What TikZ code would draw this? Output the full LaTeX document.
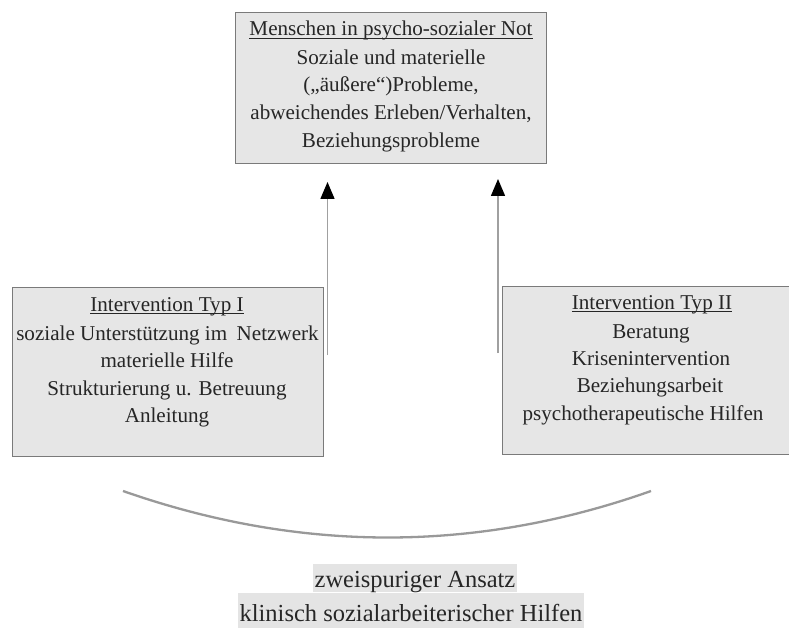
\documentclass[tikz,border=0pt]{standalone}
\usepackage{fontspec}
\setmainfont{Liberation Serif}
\usetikzlibrary{arrows.meta,calc}
\definecolor{boxfill}{HTML}{E6E6E6}
\definecolor{boxline}{HTML}{7A7A7A}
\definecolor{shaft}{HTML}{A0A0A0}
\definecolor{arcline}{HTML}{999999}
\definecolor{marker}{HTML}{E4E4E4}
% underline that crosses the descenders, as in the printed boxes
\newcommand\ulin[1]{\setbox0\hbox{#1}\rlap{\rule[-3pt]{\wd0}{0.9pt}}\box0}
\tikzset{
  panel/.style={draw=boxline, line width=1.3pt, fill=boxfill, inner sep=0pt, anchor=north west},
  line/.style={inner sep=0pt, anchor=base, text=black!85, font=\fontsize{21.1}{27}\selectfont},
  uparrow/.style={draw=shaft, line width=1.5pt, -{Triangle[length=17pt,width=14pt,color=black]}},
  caption/.style={fill=marker, inner xsep=1.5pt, inner ysep=0pt, anchor=base,
    text=black!85, font=\fontsize{24.5}{30}\selectfont}
}
\begin{document}
\begin{tikzpicture}[x=1pt,y=-1pt]
\clip (0,0) rectangle (789,628);
\fill[white] (0,0) rectangle (789,628);

% problem box
\node[panel, minimum width=311pt, minimum height=151pt] (need) at (235,12) {};
\node[line] (need0) at (391,36)    {\ulin{Menschen in psycho-sozialer Not}};
\node[line] (need1) at (391,64.3)  {Soziale und materielle};
\node[line] (need2) at (391,92)    {(„äußere“)Probleme,};
\node[line] (need3) at (391,119.6) {abweichendes Erleben/Verhalten,};
\node[line] (need4) at (391,147.2) {Beziehungsprobleme};

% intervention type I
\node[panel, minimum width=311pt, minimum height=169pt] (typeone) at (12,287) {};
\node[line] (one0) at (167,311)   {\ulin{Intervention Typ I}};
\node[line] (one1) at (167.5,340) {soziale Unterstützung im\hspace{0.45em}Netzwerk};
\node[line] (one2) at (167,367.5) {materielle Hilfe};
\node[line] (one3) at (167,395)   {Strukturierung u. Betreuung};
\node[line] (one4) at (167,422.5) {Anleitung};

% intervention type II
\node[panel, minimum width=300pt, minimum height=168pt] (typetwo) at (502,286) {};
\node[line] (two0) at (652,309) {\ulin{Intervention Typ II}};
\node[line] (two1) at (651,338) {Beratung};
\node[line] (two2) at (651,365) {Krisenintervention};
\node[line] (two3) at (650,392) {Beziehungsarbeit};
\node[line] (two4) at (643,420) {psychotherapeutische Hilfen};

% arrows towards the problem box
\coordinate (aonefrom) at (327.5,355);
\coordinate (aoneto) at (327.5,182);
\coordinate (atwofrom) at (498,353);
\coordinate (atwoto) at (498,179);
\draw[uparrow] (aonefrom) -- (aoneto);
\draw[uparrow] (atwofrom) -- (atwoto);

% bracket arc joining both tracks
\coordinate (arcleft) at (123,491);
\coordinate (arcca) at (300,553);
\coordinate (arccb) at (476,553);
\coordinate (arcright) at (651,491);
\draw[arcline, line width=2.3pt] (arcleft) .. controls (arcca) and (arccb) .. (arcright);

% caption
\node[caption, text height=24pt, text depth=4.5pt] (capone) at (415,587.5) {zweispuriger Ansatz\ };
\node[caption, text height=28.5pt, text depth=7pt] (captwo) at (411,621.5) {klinisch sozialarbeiterischer Hilfen};
\end{tikzpicture}
\end{document}
